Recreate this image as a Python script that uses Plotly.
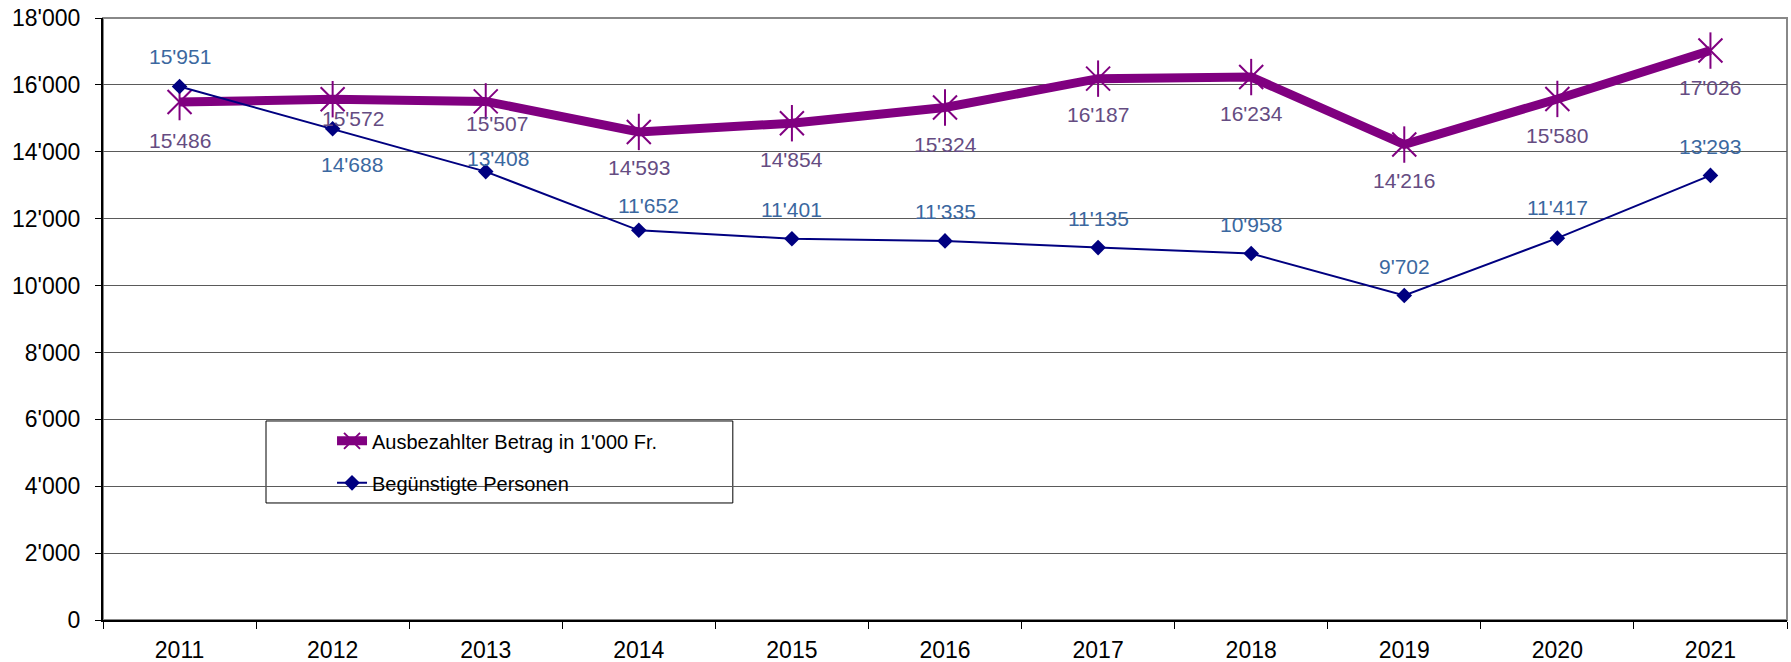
import plotly.graph_objects as go

years = ["2011", "2012", "2013", "2014", "2015", "2016", "2017", "2018", "2019", "2020", "2021"]
betrag = [15486, 15572, 15507, 14593, 14854, 15324, 16187, 16234, 14216, 15580, 17026]
personen = [15951, 14688, 13408, 11652, 11401, 11335, 11135, 10958, 9702, 11417, 13293]
y_ticks = [0, 2000, 4000, 6000, 8000, 10000, 12000, 14000, 16000, 18000]
y_ticktext = ["0", "2'000", "4'000", "6'000", "8'000", "10'000", "12'000", "14'000", "16'000", "18'000"]

name_betrag = "Ausbezahlter Betrag in 1'000 Fr."
name_personen = "Begünstigte Personen"

# label placement offsets (pixels), as placed in the original chart
betrag_lbl_dx = [0, 20, 11, 0, 0, 0, 0, 0, 0, 0, 0]
betrag_lbl_dy = [-38, -19, -22, -36, -36, -37, -36, -36, -36, -37, -37]
personen_lbl_dx = [0, 19, 12, 10, 0, 0, 0, 0, 0, 0, 0]
personen_lbl_dy = [30, -36, 13, 25, 29, 29, 29, 29, 29, 31, 29]

PURPLE = "#800080"
NAVY = "#000080"
LBL_BLUE = "#3B68A0"
LBL_PURPLE = "#654C82"
FONT = "Liberation Sans, Arial, sans-serif"


def fmt(v):
    return f"{v:,}".replace(",", "'")


fig = go.Figure()
fig.add_trace(go.Scatter(
    x=years, y=betrag, name=name_betrag, mode="lines+markers",
    line=dict(color=PURPLE, width=9),
    marker=dict(symbol="x-thin-open", size=24, color=PURPLE, line=dict(color=PURPLE, width=2)),
    legendgroup="a",
))
fig.add_trace(go.Scatter(
    x=years, y=betrag, mode="markers", showlegend=False, hoverinfo="skip",
    marker=dict(symbol="line-ns-open", size=26, color=PURPLE, line=dict(color=PURPLE, width=2)),
    legendgroup="a",
))
fig.add_trace(go.Scatter(
    x=years, y=personen, name=name_personen, mode="lines+markers",
    line=dict(color=NAVY, width=2),
    marker=dict(symbol="diamond", size=12, color=NAVY),
    legendgroup="b",
))

annotations = []
for i, v in enumerate(betrag):
    annotations.append(dict(x=i, y=v, xref="x", yref="y", text=fmt(v), showarrow=False,
                            xshift=betrag_lbl_dx[i], yshift=betrag_lbl_dy[i],
                            font=dict(family=FONT, size=21, color=LBL_PURPLE)))
for i, v in enumerate(personen):
    annotations.append(dict(x=i, y=v, xref="x", yref="y", text=fmt(v), showarrow=False,
                            xshift=personen_lbl_dx[i], yshift=personen_lbl_dy[i],
                            font=dict(family=FONT, size=21, color=LBL_BLUE)))

fig.update_layout(
    width=1791, height=662,
    margin=dict(l=103, r=4, t=18, b=42, autoexpand=False),
    paper_bgcolor="white", plot_bgcolor="white",
    font=dict(family=FONT, size=23, color="black"),
    showlegend=True,
    legend=dict(
        x=0.136, y=0.33, xanchor="left", yanchor="top",
        bgcolor="rgba(0,0,0,0)", borderwidth=0,
        font=dict(family=FONT, size=20, color="black"),
        tracegroupgap=13, traceorder="grouped",
    ),
    annotations=annotations,
    shapes=[
        dict(type="rect", xref="paper", yref="paper", x0=0, x1=1, y0=0, y1=1,
             line=dict(color="#888888", width=2), layer="below"),
        dict(type="rect", xref="paper", yref="paper", x0=0.0968, x1=0.374, y0=0.1944, y1=0.3306,
             line=dict(color="black", width=1), fillcolor="white", layer="below"),
    ],
    xaxis=dict(
        type="category", range=[-0.5, 10.5], automargin=False,
        showline=True, linecolor="black", linewidth=2,
        ticks="outside", tickson="boundaries", ticklen=7, tickcolor="black",
        showgrid=False, tickfont=dict(family=FONT, size=23, color="black"),
        ticklabelstandoff=8, zeroline=False,
    ),
    yaxis=dict(
        range=[0, 18000], tickvals=y_ticks, ticktext=y_ticktext, automargin=False,
        showline=True, linecolor="black", linewidth=2,
        ticks="outside", ticklen=6, tickcolor="black",
        showgrid=True, gridcolor="#5a5a5a", gridwidth=1,
        tickfont=dict(family=FONT, size=23, color="black"),
        zeroline=False, ticklabelstandoff=10, ticklabeloverflow="allow",
    ),
)

fig.write_html(
    "out.html",
    config={"displayModeBar": False},
    post_script="document.body.style.margin='0px';document.body.style.overflow='hidden';",
)
